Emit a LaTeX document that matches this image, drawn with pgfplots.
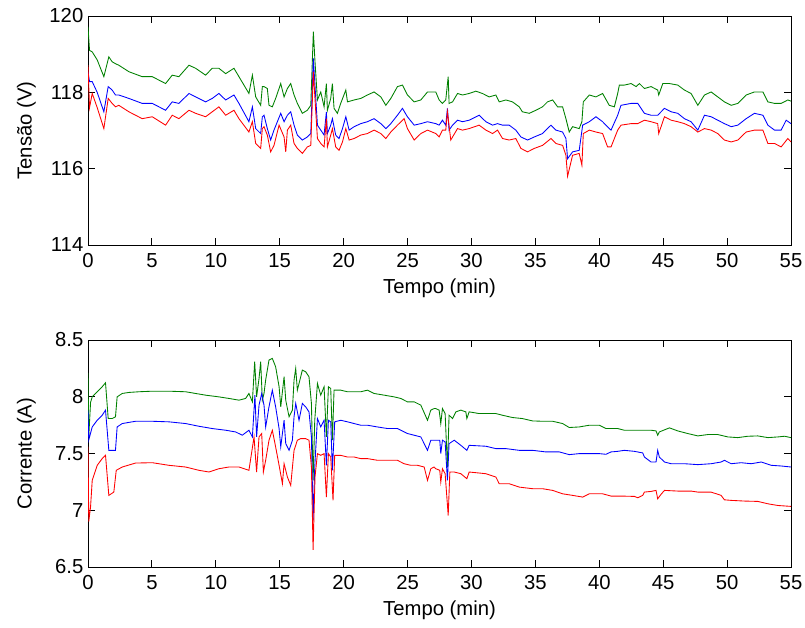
\documentclass[border=0pt]{standalone}
\usepackage{pgfplots}
\pgfplotsset{compat=1.18}
\usepackage{fontspec}
\setmainfont{Liberation Sans}
\definecolor{mgreen}{rgb}{0,0.5,0}
\definecolor{mblue}{rgb}{0,0,1}
\definecolor{mred}{rgb}{1,0,0}
\pgfplotsset{
  mstyle/.style={
    scale only axis,
    width=527.25pt,
    xmin=0, xmax=55,
    xtick={0,5,...,55},
    tick align=inside,
    xtick pos=both, ytick pos=both,
    major tick length=5pt,
    minor tick num=0,
    axis line style={line width=0.7pt},
    every tick/.style={black, line width=0.7pt},
    /pgf/number format/assume math mode=true,
    tick label style={font=\fontsize{15.2}{18}\selectfont},
    xticklabel style={yshift=-3pt},
    yticklabel style={xshift=0pt},
    label style={font=\fontsize{15.2}{18}\selectfont},
    xlabel={Tempo (min)},
    xlabel style={at={(axis description cs:0.5,0)}, anchor=north, yshift=-25pt, inner sep=0pt},
    ylabel style={at={(axis description cs:-0.074,0.5)}, anchor=south, rotate=0, inner sep=0pt},
    every axis plot/.style={line width=0.65pt, mark=none},
    clip=true,
  }
}
\begin{document}
\begin{tikzpicture}
\path[use as bounding box] (-66pt,12pt) rectangle (537.75pt,-458.25pt);
\begin{axis}[mstyle, at={(0pt,0pt)}, anchor=north west, height=171.75pt,
  ymin=114, ymax=120, ytick={114,116,118,120}, ylabel={Tensão (V)}]
\addplot[mgreen] coordinates {
(0,119.72)(0.12,119.10)(0.33,119.06)(0.72,118.85)(1.24,118.41)(1.63,118.93)(1.89,118.80)(2.15,118.75)(2.41,118.71)(3.20,118.54)(4.24,118.41)(5.03,118.41)(6.07,118.23)(6.59,118.45)(7.11,118.41)(7.90,118.71)(8.42,118.63)(9.20,118.45)(9.72,118.63)(10.24,118.63)(10.77,118.49)(11.42,118.63)(11.81,118.41)(12.59,117.97)(12.86,118.45)(13.12,117.88)(13.51,117.66)(13.64,118.15)(13.77,118.15)(14.03,118.10)(14.16,117.66)(14.42,117.62)(14.68,117.84)(15.08,118.23)(15.34,117.88)(15.60,118.10)(15.86,118.23)(16.12,117.93)(16.38,117.71)(16.77,117.45)(17.16,117.53)(17.43,117.66)(17.63,119.59)(17.76,118.80)(17.95,117.80)(18.21,118.01)(18.47,117.62)(18.65,118.23)(18.73,117.53)(18.99,117.84)(19.12,118.23)(19.25,117.58)(19.51,117.45)(19.77,117.71)(20.17,118.06)(20.30,117.75)(20.82,117.80)(21.34,117.84)(21.86,117.93)(22.38,118.01)(22.91,117.88)(23.30,117.66)(23.69,117.84)(24.21,118.15)(24.60,118.19)(24.99,117.93)(25.52,117.75)(26.04,117.80)(26.56,118.01)(27.21,118.01)(27.47,117.80)(27.73,117.71)(27.99,117.80)(28.18,118.41)(28.25,117.71)(28.52,117.75)(28.91,117.97)(29.30,117.93)(29.82,117.97)(30.34,118.03)(30.86,117.97)(31.39,117.88)(31.91,117.93)(32.17,117.75)(32.69,117.80)(33.21,117.75)(33.74,117.62)(33.98,117.49)(34.52,117.45)(35.04,117.53)(35.56,117.62)(35.95,117.75)(36.35,117.80)(36.74,117.62)(37.13,117.62)(37.39,117.31)(37.65,116.96)(37.91,117.10)(38.43,117.05)(38.64,117.23)(38.75,117.75)(39.22,117.93)(39.74,117.88)(40.26,117.97)(40.78,117.66)(41.18,117.62)(41.44,117.97)(41.57,118.19)(41.96,118.19)(42.49,118.23)(42.88,118.15)(43.14,118.23)(43.53,118.10)(44.05,118.15)(44.57,118.06)(44.65,117.93)(44.97,118.23)(45.49,118.23)(46.14,118.19)(46.66,118.06)(47.18,117.97)(47.71,117.66)(48.23,117.93)(48.75,118.01)(49.27,117.88)(49.79,117.75)(50.32,117.66)(50.84,117.71)(51.49,117.93)(52.14,118.01)(52.80,118.01)(53.19,117.75)(53.71,117.71)(54.23,117.71)(54.75,117.80)(55.00,117.77)
};
\addplot[mblue] coordinates {
(0,118.54)(0.12,118.28)(0.33,118.28)(0.72,118.00)(1.24,117.49)(1.58,118.15)(1.89,118.06)(2.15,117.93)(2.41,117.93)(3.20,117.84)(4.24,117.71)(5.03,117.71)(6.07,117.53)(6.59,117.75)(7.11,117.71)(7.90,117.97)(8.42,117.88)(9.20,117.75)(9.72,117.84)(10.24,117.97)(10.77,117.80)(11.42,117.93)(11.81,117.71)(12.59,117.23)(12.86,117.62)(13.12,117.05)(13.51,116.92)(13.64,117.36)(13.77,117.40)(14.03,117.05)(14.29,116.75)(14.55,117.01)(15.08,117.45)(15.34,117.23)(15.60,117.40)(15.86,117.49)(16.12,117.14)(16.38,116.88)(16.77,116.75)(17.16,116.83)(17.43,116.92)(17.63,118.89)(17.82,117.84)(17.95,117.14)(18.21,117.01)(18.47,116.88)(18.65,117.49)(18.73,116.92)(18.99,117.14)(19.12,117.31)(19.38,116.88)(19.64,116.79)(19.91,117.05)(20.17,117.36)(20.43,117.01)(20.82,117.10)(21.34,117.18)(21.86,117.23)(22.38,117.31)(22.91,117.18)(23.30,117.05)(23.69,117.18)(24.21,117.40)(24.60,117.58)(24.99,117.36)(25.52,117.14)(26.04,117.18)(26.56,117.23)(27.21,117.18)(27.47,117.14)(27.73,117.27)(27.99,117.14)(28.12,117.58)(28.25,117.01)(28.52,117.14)(28.91,117.27)(29.30,117.23)(29.82,117.27)(30.60,117.40)(31.13,117.23)(31.65,117.14)(32.04,117.18)(32.43,117.14)(32.95,117.14)(33.47,117.01)(33.87,116.83)(34.39,116.75)(34.91,116.83)(35.56,116.92)(36.22,117.14)(36.61,117.01)(37.13,116.96)(37.39,116.79)(37.52,116.26)(37.91,116.44)(38.43,116.48)(38.70,117.14)(39.22,117.23)(39.74,117.36)(40.26,117.23)(40.78,117.05)(40.92,117.01)(41.44,117.40)(41.70,117.66)(42.49,117.71)(43.01,117.71)(43.53,117.45)(44.05,117.40)(44.57,117.40)(45.10,117.58)(45.62,117.49)(46.14,117.45)(46.66,117.31)(47.18,117.23)(47.71,117.01)(48.23,117.40)(48.75,117.36)(49.27,117.27)(49.79,117.18)(50.32,117.10)(50.84,117.14)(51.49,117.31)(52.14,117.45)(52.80,117.40)(53.19,117.14)(53.71,117.01)(54.23,117.01)(54.62,117.27)(55.00,117.18)
};
\addplot[mred] coordinates {
(0,118.71)(0.12,117.60)(0.33,117.97)(0.72,117.60)(1.24,117.05)(1.58,117.84)(1.89,117.71)(2.15,117.62)(2.41,117.66)(3.20,117.49)(4.24,117.31)(5.03,117.36)(6.07,117.14)(6.59,117.40)(7.11,117.31)(7.90,117.53)(8.42,117.45)(9.20,117.36)(9.72,117.49)(10.24,117.62)(10.77,117.40)(11.42,117.53)(11.81,117.31)(12.59,116.96)(12.86,117.23)(13.12,116.66)(13.51,116.53)(13.64,117.05)(13.77,117.10)(14.03,116.88)(14.29,116.44)(14.55,116.61)(14.95,117.14)(15.34,116.83)(15.47,116.44)(15.60,117.01)(15.86,117.14)(16.12,116.66)(16.38,116.53)(16.77,116.40)(17.16,116.57)(17.43,116.61)(17.63,118.54)(17.82,117.49)(17.95,116.79)(18.21,116.66)(18.47,116.57)(18.65,117.31)(18.73,116.57)(18.99,116.88)(19.12,117.05)(19.38,116.57)(19.64,116.48)(19.91,116.70)(20.17,117.05)(20.43,116.75)(20.82,116.79)(21.34,116.88)(21.86,116.92)(22.38,117.01)(22.91,116.92)(23.30,116.79)(23.69,116.96)(24.21,117.14)(24.73,117.31)(24.99,117.05)(25.52,116.75)(26.04,116.92)(26.56,117.01)(27.21,116.92)(27.47,116.83)(27.73,117.01)(27.99,117.01)(28.12,117.49)(28.38,116.75)(28.91,117.05)(29.30,117.01)(29.82,117.05)(30.60,117.14)(31.13,117.01)(31.65,116.92)(32.04,117.01)(32.43,116.79)(32.95,116.75)(33.47,116.79)(33.87,116.53)(34.39,116.44)(34.91,116.53)(35.56,116.61)(36.22,116.79)(36.61,116.66)(37.13,116.61)(37.39,116.35)(37.52,115.80)(37.91,116.35)(38.43,116.40)(38.64,116.09)(38.75,116.92)(39.22,117.01)(39.74,116.96)(40.26,116.92)(40.65,116.57)(40.92,116.57)(41.44,117.01)(41.70,117.14)(42.49,117.18)(43.01,117.18)(43.53,117.27)(44.05,117.23)(44.57,117.18)(44.65,116.92)(45.10,117.36)(45.62,117.27)(46.14,117.23)(46.66,117.18)(47.18,117.10)(47.71,116.96)(48.23,117.05)(48.75,117.01)(49.27,116.92)(49.79,116.75)(50.32,116.70)(50.84,116.75)(51.49,116.96)(52.14,117.01)(52.80,117.01)(53.19,116.66)(53.71,116.66)(54.23,116.57)(54.75,116.79)(55.00,116.70)
};
\end{axis}
\begin{axis}[mstyle, at={(0pt,-243pt)}, anchor=north west, height=170.25pt,
  ymin=6.5, ymax=8.5, ytick={6.5,7,7.5,8,8.5}, ylabel={Corrente (A)}]
\addplot[mgreen] coordinates {
(0,8.21)(0.06,7.65)(0.20,7.95)(0.33,7.999)(0.72,8.044)(1.11,8.088)(1.37,8.123)(1.58,7.808)(1.89,7.808)(2.15,7.823)(2.28,7.999)(2.68,8.029)(3.20,8.038)(3.98,8.044)(5.03,8.049)(6.33,8.049)(7.63,8.044)(8.42,8.029)(9.20,8.014)(10.24,7.999)(11.03,7.985)(11.81,7.970)(12.33,7.985)(12.59,8.029)(12.86,7.955)(13.04,8.309)(13.19,7.999)(13.38,8.161)(13.51,8.309)(13.64,7.970)(13.77,8.029)(13.90,8.147)(14.16,8.323)(14.42,8.338)(14.68,8.264)(14.95,8.088)(15.08,7.911)(15.34,8.176)(15.47,7.970)(15.73,7.823)(15.99,7.882)(16.12,8.147)(16.25,8.250)(16.38,8.058)(16.64,8.176)(16.77,8.235)(17.03,8.220)(17.29,8.176)(17.48,7.941)(17.61,7.263)(17.74,7.793)(17.95,8.117)(18.21,8.014)(18.47,8.088)(18.65,7.646)(18.81,8.088)(18.99,8.073)(19.12,7.617)(19.25,8.058)(19.77,8.058)(20.30,8.044)(20.82,8.044)(21.34,8.044)(21.86,8.058)(22.38,8.029)(23.17,8.014)(23.95,7.999)(24.47,7.985)(24.99,7.955)(25.52,7.955)(26.04,7.926)(26.56,7.793)(26.82,7.882)(27.08,7.896)(27.21,7.896)(27.47,7.882)(27.60,7.764)(27.73,7.896)(27.94,7.852)(28.12,7.381)(28.25,7.837)(28.52,7.808)(28.78,7.867)(29.17,7.882)(29.56,7.867)(29.64,7.808)(29.82,7.867)(30.60,7.852)(31.39,7.852)(31.91,7.852)(32.43,7.837)(33.21,7.817)(33.98,7.808)(34.78,7.787)(35.56,7.784)(36.35,7.784)(37.13,7.764)(37.65,7.729)(38.43,7.734)(39.22,7.749)(40.00,7.749)(40.52,7.720)(41.44,7.720)(41.96,7.705)(43.01,7.705)(44.05,7.705)(44.44,7.699)(44.57,7.661)(44.70,7.690)(45.49,7.726)(46.14,7.699)(46.92,7.676)(47.71,7.655)(48.49,7.667)(49.27,7.667)(50.06,7.646)(50.84,7.640)(51.62,7.652)(52.40,7.655)(53.19,7.640)(53.97,7.646)(54.49,7.652)(55.00,7.640)
};
\addplot[mblue] coordinates {
(0,7.88)(0.06,7.62)(0.33,7.734)(0.72,7.793)(1.11,7.837)(1.37,7.882)(1.63,7.528)(2.15,7.528)(2.28,7.734)(2.68,7.764)(3.72,7.784)(5.03,7.784)(6.33,7.779)(7.63,7.764)(8.68,7.740)(9.72,7.720)(10.77,7.705)(11.55,7.690)(12.07,7.661)(12.59,7.705)(12.86,7.646)(13.06,8.014)(13.19,7.646)(13.38,7.926)(13.59,8.029)(13.77,7.926)(13.90,7.734)(14.16,7.911)(14.42,8.058)(14.68,7.911)(14.95,7.720)(15.08,7.558)(15.34,7.793)(15.47,7.587)(15.73,7.528)(15.99,7.617)(16.12,7.823)(16.25,7.941)(16.51,7.793)(16.77,7.941)(17.03,7.911)(17.29,7.867)(17.48,7.646)(17.61,6.910)(17.74,7.381)(17.95,7.808)(18.21,7.734)(18.47,7.793)(18.65,7.396)(18.81,7.793)(18.99,7.779)(19.12,7.352)(19.30,7.779)(19.77,7.793)(20.30,7.779)(20.82,7.764)(21.34,7.749)(21.86,7.749)(22.65,7.734)(23.43,7.720)(24.21,7.720)(24.99,7.676)(25.52,7.661)(26.04,7.646)(26.56,7.528)(26.82,7.617)(27.21,7.617)(27.52,7.617)(27.60,7.499)(27.73,7.617)(27.94,7.602)(28.12,7.263)(28.25,7.587)(28.65,7.617)(29.17,7.572)(29.64,7.528)(29.82,7.572)(31.13,7.564)(31.91,7.543)(32.69,7.543)(33.74,7.528)(34.78,7.528)(35.82,7.514)(36.87,7.514)(37.65,7.490)(38.43,7.499)(39.22,7.499)(40.00,7.499)(40.52,7.493)(40.92,7.514)(41.44,7.519)(41.96,7.528)(42.75,7.519)(43.40,7.505)(43.53,7.469)(44.05,7.425)(44.44,7.425)(44.57,7.528)(44.70,7.469)(45.10,7.425)(45.62,7.410)(46.66,7.410)(47.71,7.402)(48.75,7.410)(49.53,7.425)(49.79,7.440)(50.32,7.410)(51.10,7.419)(51.88,7.410)(52.67,7.425)(53.45,7.396)(54.23,7.390)(55.00,7.381)
};
\addplot[mred] coordinates {
(0,7.56)(0.06,6.90)(0.20,7.03)(0.33,7.263)(0.72,7.396)(1.11,7.455)(1.37,7.484)(1.63,7.131)(2.02,7.160)(2.21,7.352)(2.68,7.381)(3.72,7.416)(5.03,7.419)(6.33,7.396)(7.63,7.381)(8.68,7.352)(9.46,7.337)(10.24,7.366)(11.03,7.381)(11.81,7.381)(12.59,7.352)(12.99,7.646)(13.19,7.337)(13.38,7.646)(13.59,7.676)(13.72,7.337)(13.90,7.440)(14.16,7.617)(14.42,7.705)(14.68,7.558)(14.95,7.396)(15.21,7.234)(15.34,7.410)(15.60,7.293)(15.86,7.219)(16.12,7.528)(16.38,7.617)(16.64,7.631)(17.03,7.631)(17.29,7.617)(17.48,7.381)(17.61,6.65)(17.76,7.293)(17.95,7.499)(18.21,7.484)(18.47,7.499)(18.65,7.116)(18.81,7.499)(18.99,7.469)(19.17,7.087)(19.30,7.484)(19.77,7.484)(20.30,7.469)(20.82,7.469)(21.34,7.455)(21.86,7.455)(22.65,7.440)(23.43,7.440)(24.21,7.440)(24.73,7.410)(25.25,7.396)(25.78,7.396)(26.30,7.381)(26.56,7.263)(26.82,7.366)(27.08,7.381)(27.21,7.366)(27.52,7.352)(27.60,7.249)(27.73,7.366)(27.94,7.322)(28.18,6.954)(28.31,7.337)(28.65,7.337)(29.17,7.322)(29.64,7.278)(29.82,7.337)(31.13,7.322)(31.91,7.293)(32.17,7.234)(32.95,7.234)(33.74,7.204)(34.78,7.190)(35.56,7.190)(36.35,7.175)(37.13,7.145)(37.91,7.131)(38.70,7.116)(39.22,7.145)(40.26,7.145)(40.92,7.125)(41.70,7.125)(42.75,7.122)(43.01,7.110)(43.40,7.131)(43.53,7.160)(44.05,7.166)(44.44,7.175)(44.57,7.101)(44.83,7.140)(45.10,7.175)(46.14,7.169)(47.18,7.169)(47.71,7.160)(48.75,7.160)(49.53,7.131)(49.79,7.092)(50.32,7.087)(51.36,7.081)(52.40,7.078)(53.19,7.057)(53.97,7.042)(55.00,7.034)
};
\end{axis}
\end{tikzpicture}
\end{document}
